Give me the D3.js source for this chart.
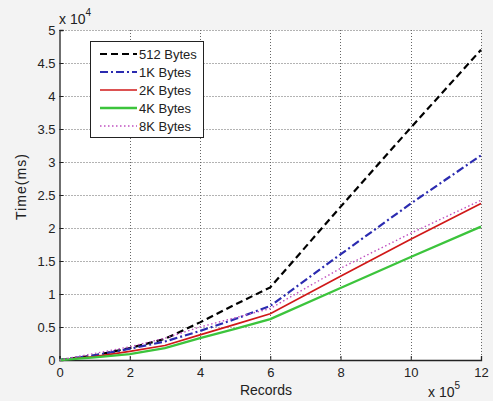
<!DOCTYPE html>
<html>
<head>
<meta charset="utf-8">
<script src="https://cdn.jsdelivr.net/npm/d3@7"></script>
<style>
  body { margin: 0; background: #f3f3f3; }
  svg { display: block; font-family: "Liberation Sans", Arial, sans-serif; }
</style>
</head>
<body>
<svg id="chart" width="493" height="401"></svg>
<script>
// records (x 10^5) and times (x 10^4 ms)
const records = [0, 1, 2, 3, 4, 5, 6, 8, 10, 12];
const bytes512 = [0, 0.07, 0.18, 0.32, 0.57, 0.84, 1.1, 2.32, 3.52, 4.7];
const bytes1K = [0, 0.07, 0.17, 0.28, 0.44, 0.62, 0.82, 1.6, 2.37, 3.1];
const bytes2K = [0, 0.05, 0.13, 0.22, 0.38, 0.54, 0.7, 1.27, 1.83, 2.37];
const bytes4K = [0, 0.04, 0.09, 0.18, 0.33, 0.47, 0.62, 1.09, 1.56, 2.02];
const bytes8K = [0, 0.1, 0.2, 0.33, 0.5, 0.64, 0.78, 1.39, 1.92, 2.42];
const seriesNames = ["512 Bytes", "1K Bytes", "2K Bytes", "4K Bytes", "8K Bytes"];
const xTicks = [0, 2, 4, 6, 8, 10, 12];
const yTicks = [0, 0.5, 1, 1.5, 2, 2.5, 3, 3.5, 4, 4.5, 5];

const styles = [
    { color: "#000000", width: 2.2, dash: "7,4" },
    { color: "#2b2bb0", width: 2.2, dash: "8,3,2,3" },
    { color: "#d01818", width: 1.7, dash: null },
    { color: "#3cc43c", width: 2.3, dash: null },
    { color: "#c050c0", width: 1.4, dash: "1.5,2.5" }
];
const allSeries = [bytes512, bytes1K, bytes2K, bytes4K, bytes8K];

const svg = d3.select("#chart");
const mLeft = 59.5, mRight = 481, mTop = 30, mBottom = 360;

const x = d3.scaleLinear().domain([0, 12]).range([mLeft, mRight]);
const y = d3.scaleLinear().domain([0, 5]).range([mBottom, mTop]);

// plot area
svg.append("rect").attr("x", mLeft).attr("y", mTop)
    .attr("width", mRight - mLeft).attr("height", mBottom - mTop).attr("fill", "#ffffff");

// grid
const grid = svg.append("g").attr("stroke", "#666").attr("stroke-width", 1).attr("stroke-dasharray", "1,2");
grid.selectAll(".gx").data(xTicks.slice(1)).join("line")
    .attr("x1", d => Math.round(x(d)) + 0.5).attr("x2", d => Math.round(x(d)) + 0.5)
    .attr("y1", mTop).attr("y2", mBottom);
grid.selectAll(".gy").data(yTicks.slice(1)).join("line")
    .attr("y1", d => Math.round(y(d)) + 0.5).attr("y2", d => Math.round(y(d)) + 0.5)
    .attr("x1", mLeft).attr("x2", mRight);

// axes
const xAxis = svg.append("g").attr("transform", `translate(0,${mBottom})`)
    .call(d3.axisBottom(x).tickValues(xTicks).tickSize(-4).tickPadding(8).tickFormat(d3.format("d")));
const yAxis = svg.append("g").attr("transform", `translate(${mLeft},0)`)
    .call(d3.axisLeft(y).tickValues(yTicks).tickSize(-4).tickPadding(4).tickFormat(d => d));
[xAxis, yAxis].forEach(a => {
    a.select(".domain").attr("stroke", "#222").attr("stroke-width", 1.3);
    a.selectAll(".tick line").attr("stroke", "#222");
    a.selectAll("text").attr("font-size", 13).attr("fill", "#222").attr("font-family", "Liberation Sans, Arial, sans-serif");
});

// lines
const line = d3.line().x((d, i) => x(records[i])).y(d => y(d));
allSeries.forEach((s, i) => {
    svg.append("path").datum(s)
        .attr("d", line)
        .attr("fill", "none")
        .attr("stroke", styles[i].color)
        .attr("stroke-width", styles[i].width)
        .attr("stroke-dasharray", styles[i].dash);
});

// exponent labels
const yExp = svg.append("text").attr("x", 59).attr("y", 24).attr("font-size", 14).attr("fill", "#222");
yExp.append("tspan").text("x 10");
yExp.append("tspan").attr("dy", -8).attr("font-size", 10).text("4");
const xExp = svg.append("text").attr("x", 428).attr("y", 397).attr("font-size", 14).attr("fill", "#222");
xExp.append("tspan").text("x 10");
xExp.append("tspan").attr("dy", -8).attr("font-size", 10).text("5");

// axis titles
svg.append("text").attr("x", 266).attr("y", 395).attr("text-anchor", "middle")
    .attr("font-size", 14).attr("fill", "#222").text("Records");
svg.append("text").attr("transform", "translate(26,187) rotate(-90)").attr("text-anchor", "middle")
    .attr("font-size", 14).attr("textLength", 66).attr("fill", "#222").text("Time(ms)");

// legend
const lg = svg.append("g");
lg.append("rect").attr("x", 90.5).attr("y", 41.5).attr("width", 113).attr("height", 96)
    .attr("fill", "#ffffff").attr("stroke", "#222").attr("stroke-width", 1);
seriesNames.forEach((name, i) => {
    const ly = 54 + i * 18;
    lg.append("line").attr("x1", 100).attr("x2", 137).attr("y1", ly).attr("y2", ly)
        .attr("stroke", styles[i].color).attr("stroke-width", styles[i].width)
        .attr("stroke-dasharray", styles[i].dash);
    lg.append("text").attr("x", 139).attr("y", ly + 5).attr("font-size", 13)
        .attr("fill", "#222").text(name);
});
</script>
</body>
</html>
